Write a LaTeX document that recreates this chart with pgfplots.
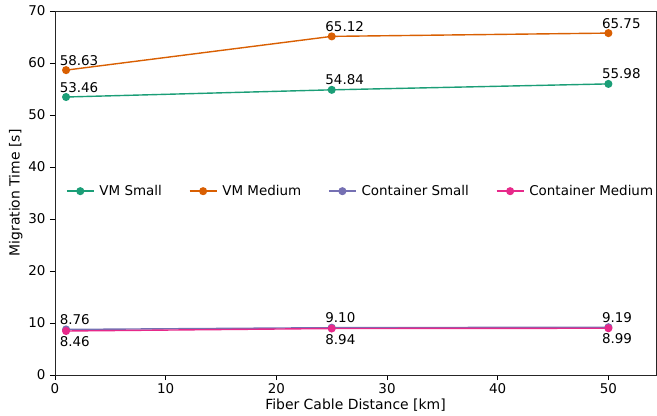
\documentclass[border=0pt]{standalone}
\usepackage{pgfplots}
\pgfplotsset{compat=1.18}
\usepackage{fontspec}
\setmainfont{DejaVu Sans}
\definecolor{c1}{HTML}{1B9E77}
\definecolor{c2}{HTML}{D95F02}
\definecolor{c3}{HTML}{7570B3}
\definecolor{c4}{HTML}{E7298A}
\begin{document}
\begin{tikzpicture}
\begin{axis}[
  scale only axis,
  width=601bp, height=364bp,
  xmin=0, xmax=54.3, ymin=0, ymax=70,
  xtick={0,10,20,30,40,50},
  ytick={0,10,20,30,40,50,60,70},
  tick align=outside,
  tick pos=left,
  major tick length=5bp,
  tick style={line width=0.8bp, black},
  /pgf/number format/assume math mode=true,
  tick label style={font=\fontsize{13.5}{15}\selectfont},
  yticklabel style={xshift=-1bp},
  xlabel={Fiber Cable Distance [km]},
  ylabel={Migration Time [s]},
  xlabel style={font=\fontsize{14}{16}\selectfont, at={(axis description cs:0.5,-0.094)}, anchor=base},
  ylabel style={font=\fontsize{14}{16}\selectfont, at={(axis description cs:-0.048,0.5)}, anchor=south},
  axis line style={line width=0.8bp, black!85},
  legend style={at={(0.511,0.505)}, anchor=center, draw=none, fill=none,
    legend columns=4, font=\fontsize{13.5}{15}\selectfont,
    /tikz/every even column/.append style={column sep=22bp},
    nodes={inner xsep=5bp}},
  legend image code/.code={\draw[mark repeat=2,mark phase=2] plot coordinates {(0bp,0bp) (13.5bp,0bp) (27bp,0bp)};},
  legend cell align=left,
  every axis plot/.append style={line width=1.4bp, mark=*, mark size=3.3bp},
  nodes near coords,
  every node near coord/.append style={font=\fontsize{13.5}{15}\selectfont, text=black, inner sep=0pt},
  point meta=explicit symbolic,
]
\addplot[c1, mark options={fill=c1}, every node near coord/.append style={anchor=base west, xshift=-7bp, yshift=5bp}] coordinates {(1,53.46)[53.46] (25,54.84)[54.84] (50,55.98)[55.98]};
\addlegendentry{VM Small}
\addplot[c2, mark options={fill=c2}, every node near coord/.append style={anchor=base west, xshift=-7bp, yshift=5bp}] coordinates {(1,58.63)[58.63] (25,65.12)[65.12] (50,65.75)[65.75]};
\addlegendentry{VM Medium}
\addplot[c3, mark options={fill=c3}, every node near coord/.append style={anchor=base west, xshift=-7bp, yshift=5bp}] coordinates {(1,8.76)[8.76] (25,9.10)[9.10] (50,9.19)[9.19]};
\addlegendentry{Container Small}
\addplot[c4, mark options={fill=c4}, every node near coord/.append style={anchor=north west, xshift=-7bp, yshift=-5bp}] coordinates {(1,8.46)[8.46] (25,8.94)[8.94] (50,8.99)[8.99]};
\addlegendentry{Container Medium}
\end{axis}
\pgfresetboundingbox
\useasboundingbox (-55bp,-41bp) rectangle (602bp,375bp);
\end{tikzpicture}
\end{document}
